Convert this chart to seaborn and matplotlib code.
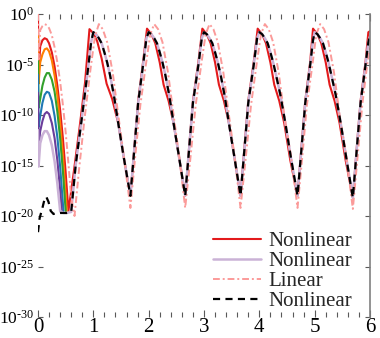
import numpy as np
import pandas as pd
import matplotlib
matplotlib.use("Agg")
import matplotlib.pyplot as plt
import seaborn as sns
from matplotlib.ticker import FixedLocator, MultipleLocator, FuncFormatter, NullLocator

# ---------------- data (log10 of the quantity) ----------------
red_t = [0.0, 0.01, 0.04, 0.08, 0.12, 0.16, 0.2, 0.25, 0.3, 0.35, 0.4, 0.45, 0.5, 0.55,
         0.65, 0.75, 0.85, 0.93,
         1.0, 1.07, 1.15, 1.24, 1.34, 1.45, 1.55, 1.67, 1.75, 1.81, 1.9, 1.97,
         2.05, 2.12, 2.2, 2.27, 2.36, 2.45, 2.55, 2.66, 2.74, 2.8, 2.9, 2.97,
         3.05, 3.12, 3.2, 3.27, 3.36, 3.45, 3.55, 3.66, 3.74, 3.8, 3.9, 3.97,
         4.05, 4.12, 4.2, 4.27, 4.36, 4.45, 4.56, 4.69, 4.77, 4.83, 4.92, 4.97,
         5.05, 5.12, 5.2, 5.27, 5.36, 5.45, 5.56, 5.69, 5.77, 5.83, 5.92, 5.97, 6.0]
red_log = [0.0, -5.9, -3.2, -2.6, -2.4, -2.5, -2.9, -3.8, -5.2, -7.1, -9.5, -12.3, -15.7, -19.5,
           -15.5, -11.3, -6.8, -1.5,
           -1.9, -2.7, -4.4, -6.9, -8.4, -10.8, -14.2, -18.0, -12.6, -8.6, -4.7, -1.45,
           -2.0, -2.9, -4.8, -7.0, -8.6, -10.8, -14.2, -18.0, -12.6, -8.6, -4.7, -1.45,
           -2.0, -2.9, -4.8, -7.0, -8.6, -10.8, -14.2, -18.0, -12.6, -8.6, -4.7, -1.45,
           -2.0, -2.9, -4.8, -7.0, -8.6, -10.8, -14.5, -18.0, -12.6, -8.6, -4.7, -1.45,
           -2.0, -2.9, -4.8, -7.0, -8.6, -10.8, -14.5, -18.2, -12.6, -8.6, -4.7, -1.8, -1.7]

orange_t = [0.0, 0.01, 0.04, 0.08, 0.12, 0.16, 0.2, 0.25, 0.3, 0.35, 0.4, 0.45, 0.5, 0.52]
orange_log = [-1.9, -6.9, -4.8, -4.0, -3.5, -3.4, -3.7, -4.6, -6.1, -8.1, -10.8, -14.0, -17.9, -19.5]

green_t = [0.0, 0.01, 0.04, 0.08, 0.12, 0.16, 0.2, 0.25, 0.3, 0.35, 0.4, 0.45, 0.5]
green_log = [-4.2, -9.3, -8.4, -7.1, -6.3, -5.85, -5.85, -6.5, -7.7, -9.7, -12.3, -15.6, -19.5]

blue_t = [0.0, 0.01, 0.04, 0.08, 0.12, 0.16, 0.2, 0.25, 0.3, 0.35, 0.4, 0.46]
blue_log = [-6.0, -11.2, -10.1, -8.8, -8.0, -7.7, -7.8, -8.6, -10.1, -12.2, -15.1, -19.5]

purple_t = [0.0, 0.01, 0.04, 0.08, 0.12, 0.16, 0.2, 0.25, 0.3, 0.35, 0.4, 0.43]
purple_log = [-7.8, -13.2, -11.6, -10.6, -9.9, -9.7, -9.9, -10.8, -12.3, -14.5, -17.4, -19.5]

lavender_t = [0.0, 0.01, 0.04, 0.08, 0.12, 0.16, 0.2, 0.25, 0.3, 0.35, 0.4, 0.46]
lavender_log = [-11.5, -15.1, -12.8, -12.0, -11.6, -11.6, -12.0, -13.0, -14.6, -16.8, -19.5, -19.7]

black_t = [0.0, 0.03, 0.08, 0.12, 0.15, 0.19, 0.23, 0.28, 0.4, 0.52, 0.6, 0.68, 0.79, 0.9, 0.96, 1.0,
           1.05, 1.1, 1.15, 1.2, 1.25, 1.3, 1.37, 1.45, 1.55, 1.67, 1.75, 1.81, 1.9, 1.96, 2.0,
           2.05, 2.1, 2.15, 2.2, 2.25, 2.3, 2.37, 2.45, 2.55, 2.66, 2.74, 2.8, 2.9, 2.96, 3.0,
           3.05, 3.1, 3.15, 3.2, 3.25, 3.3, 3.37, 3.45, 3.55, 3.66, 3.74, 3.8, 3.9, 3.96, 4.0,
           4.05, 4.1, 4.15, 4.2, 4.25, 4.3, 4.38, 4.47, 4.57, 4.69, 4.77, 4.83, 4.92, 4.97, 5.0,
           5.05, 5.1, 5.15, 5.2, 5.25, 5.3, 5.38, 5.47, 5.57, 5.69, 5.77, 5.83, 5.92, 5.97, 6.0]
black_log = [-21.6, -20.2, -19.2, -18.3, -18.1, -18.6, -19.5, -19.8, -19.7, -19.7, -19.6, -15.0, -10.4, -5.6, -2.8, -1.8,
             -2.0, -2.4, -2.9, -3.8, -4.8, -6.0, -8.0, -10.8, -14.2, -18.0, -12.8, -8.8, -5.0, -2.4, -1.8,
             -2.0, -2.4, -2.9, -3.8, -4.8, -6.0, -8.0, -10.8, -14.2, -18.0, -12.8, -8.8, -5.0, -2.4, -1.8,
             -2.0, -2.4, -2.9, -3.8, -4.8, -6.0, -8.0, -10.8, -14.2, -18.0, -12.8, -8.8, -5.0, -2.4, -1.8,
             -2.0, -2.4, -2.9, -3.8, -4.8, -6.0, -8.0, -10.8, -14.2, -18.0, -12.8, -8.8, -5.0, -2.6, -1.8,
             -2.0, -2.4, -2.9, -3.8, -4.8, -6.0, -8.0, -10.8, -14.2, -18.2, -12.8, -8.8, -5.0, -2.8, -2.2]

pink_t = [0.0, 0.01, 0.04, 0.08, 0.12, 0.16, 0.2, 0.25, 0.3, 0.35, 0.4, 0.45, 0.5, 0.55, 0.6, 0.66,
          0.74, 0.84, 0.95, 1.03, 1.1,
          1.17, 1.25, 1.35, 1.45, 1.55, 1.67, 1.75, 1.85, 1.95, 2.03, 2.1,
          2.17, 2.25, 2.35, 2.45, 2.55, 2.66, 2.75, 2.85, 2.95, 3.03, 3.1,
          3.17, 3.25, 3.35, 3.45, 3.55, 3.66, 3.75, 3.85, 3.95, 4.03, 4.1,
          4.17, 4.25, 4.35, 4.45, 4.57, 4.69, 4.77, 4.86, 4.96, 5.03, 5.1,
          5.17, 5.25, 5.35, 5.45, 5.57, 5.69, 5.77, 5.86, 5.95, 6.0]
pink_log = [0.0, -4.5, -1.6, -1.2, -1.0, -1.1, -1.4, -2.1, -3.3, -4.8, -6.7, -9.0, -11.7, -14.8, -18.2, -20.0,
            -15.5, -10.4, -5.4, -2.2, -1.0,
            -1.5, -2.8, -5.8, -10.0, -14.0, -19.2, -14.5, -9.0, -5.0, -2.0, -1.0,
            -1.5, -2.8, -5.8, -10.0, -14.0, -19.2, -14.5, -9.0, -5.0, -2.0, -1.0,
            -1.5, -2.8, -5.8, -10.0, -14.0, -19.2, -14.5, -9.0, -5.0, -2.0, -1.0,
            -1.5, -2.8, -5.8, -10.0, -14.0, -19.2, -14.5, -9.0, -5.0, -2.0, -1.0,
            -1.5, -2.8, -5.8, -10.0, -14.0, -19.3, -14.5, -9.0, -5.0, -3.3]

legend_labels = ["Nonlinear", "Nonlinear", "Linear", "Nonlinear"]
x_ticks = [0, 1, 2, 3, 4, 5, 6]
y_tick_exponents = [-30, -25, -20, -15, -10, -5, 0]

# lavender continues on the nonlinear (black) branch after its transient
lav_full_t = lavender_t + [t for t in black_t if t >= 0.52]
lav_full_log = lavender_log + [v for t, v in zip(black_t, black_log) if t >= 0.52]

# ---------------- styling ----------------
sns.set_theme(style="ticks")
plt.rcParams.update({
    "font.family": ["Liberation Serif", "DejaVu Serif"],
    "mathtext.fontset": "custom",
    "mathtext.rm": "Liberation Serif",
    "mathtext.it": "Liberation Serif:italic",
    "mathtext.bf": "Liberation Serif:bold",
    "mathtext.default": "rm",
})

pal = sns.color_palette("Paired")
c_blue, c_green, c_pink, c_red, c_orange, c_lav, c_purple = pal[1], pal[3], pal[4], pal[5], pal[7], pal[8], pal[9]

fig = plt.figure(figsize=(3.8, 3.38), dpi=100)
ax = fig.add_axes([38 / 380, 1 - 317 / 338, (370 - 38) / 380, (317 - 14) / 338])
ax.set_yscale("log")


def draw(t, logv, color, lw, ls="-", label="_nolegend_"):
    df = pd.DataFrame({"t": t, "v": np.power(10.0, np.asarray(logv, dtype=float))})
    sns.lineplot(data=df, x="t", y="v", color=color, linewidth=lw, linestyle=ls,
                 label=label, ax=ax, sort=False, estimator=None, errorbar=None)


draw(red_t, red_log, c_red, 1.5, label=legend_labels[0])
draw(orange_t, orange_log, c_orange, 1.5)
draw(green_t, green_log, c_green, 1.5)
draw(blue_t, blue_log, c_blue, 1.5)
draw(purple_t, purple_log, c_purple, 1.5)
draw(lav_full_t, lav_full_log, c_lav, 1.8, label=legend_labels[1])
draw(pink_t, pink_log, c_pink, 1.4, ls=(0, (3.5, 1.5, 1, 1.5)), label=legend_labels[2])
draw(black_t, black_log, "black", 1.6, ls=(0, (3.2, 2.4)), label=legend_labels[3])

ax.set_xlim(0, 6)
ax.set_ylim(1e-30, 1e0)
ax.set_xlabel("")
ax.set_ylabel("")


def y_fmt(v, pos):
    e = int(round(np.log10(v)))
    if e < 0:
        return r"$\mathrm{10}^{\text{-}\mathrm{%d}}$" % (-e)
    return r"$\mathrm{10}^{\mathrm{%d}}$" % e


ax.xaxis.set_major_locator(FixedLocator(x_ticks))
ax.xaxis.set_minor_locator(MultipleLocator(0.2))
ax.yaxis.set_major_locator(FixedLocator([10.0 ** e for e in y_tick_exponents]))
ax.yaxis.set_minor_locator(NullLocator())
ax.yaxis.set_major_formatter(FuncFormatter(y_fmt))

tick_col = "0.35"
ax.tick_params(axis="x", which="both", direction="in", top=True, bottom=True,
               color=tick_col, labelsize=15, pad=1, labelcolor="black")
ax.tick_params(axis="x", which="major", length=5, width=0.8)
ax.tick_params(axis="x", which="minor", length=3.5, width=0.8)
ax.tick_params(axis="y", which="major", direction="in", left=True, right=True,
               length=3.5, width=0.8, color=tick_col, labelsize=12.5, pad=2.5, labelcolor="black")
for lab in ax.get_xticklabels() + ax.get_yticklabels():
    lab.set_fontfamily(["Liberation Serif", "DejaVu Serif"])

for side in ["left", "top", "bottom"]:
    ax.spines[side].set_visible(False)
ax.spines["right"].set_color("0.5")
ax.spines["right"].set_linewidth(1.2)

ax.legend(loc="lower right", bbox_to_anchor=(0.945, 0.02), frameon=False, fontsize=15,
          handlelength=2.3, handletextpad=0.35, labelspacing=0.02, borderpad=0, borderaxespad=0)

fig.savefig("out.png", dpi=100)
